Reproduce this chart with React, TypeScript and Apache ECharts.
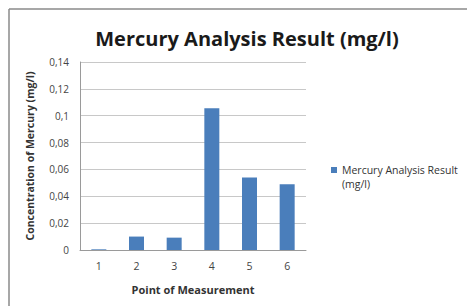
import React, { useEffect, useRef } from "react";
import * as echarts from "echarts";

const categories = ["1", "2", "3", "4", "5", "6"];
const values = [0.0005, 0.01, 0.0092, 0.1055, 0.054, 0.049];
const seriesName = "Mercury Analysis Result (mg/l)";
const titleText = "Mercury Analysis Result (mg/l)";
const yAxisName = "Concentration of Mercury (mg/l)";
const xAxisName = "Point of Measurement";

const FONT = "'Open Sans', 'Liberation Sans', sans-serif";

export default function App() {
  const ref = useRef<HTMLDivElement>(null);
  useEffect(() => {
    if (!ref.current) return;
    const chart = echarts.init(ref.current, null, { renderer: "svg" });
    chart.setOption({
      animation: false,
      backgroundColor: "#ffffff",
      title: {
        text: titleText,
        left: 242,
        top: 23,
        textAlign: "center",
        textStyle: { fontFamily: FONT, fontSize: 20, fontWeight: "bold", color: "#1a1a1a" },
      },
      graphic: [
        { type: "line", shape: { x1: 9, y1: 9, x2: 467, y2: 9 }, style: { stroke: "#8a8a8a", lineWidth: 1.5 } },
        { type: "line", shape: { x1: 9, y1: 9, x2: 9, y2: 306 }, style: { stroke: "#8a8a8a", lineWidth: 1.5 } },
      ],
      legend: {
        left: 326,
        top: 144,
        orient: "vertical",
        itemWidth: 6,
        itemHeight: 6,
        itemGap: 4,
        icon: "rect",
        formatter: () => " \nMercury Analysis Result\n(mg/l)",
        textStyle: { fontFamily: FONT, fontSize: 10.5, color: "#333", lineHeight: 14 },
        data: [seriesName],
      },
      grid: { left: 80, top: 62, width: 226, height: 188, containLabel: false },
      xAxis: {
        type: "category",
        data: categories,
        name: xAxisName,
        nameLocation: "middle",
        nameGap: 34,
        nameTextStyle: { fontFamily: FONT, fontSize: 11, fontWeight: "bold", color: "#333" },
        axisLine: { lineStyle: { color: "#9a9a9a" } },
        axisTick: { show: false },
        axisLabel: { fontFamily: FONT, fontSize: 10.5, color: "#444", margin: 10 },
      },
      yAxis: {
        type: "value",
        min: 0,
        max: 0.14,
        interval: 0.02,
        name: yAxisName,
        nameLocation: "middle",
        nameGap: 45,
        nameTextStyle: { fontFamily: FONT, fontSize: 10.5, fontWeight: "bold", color: "#333" },
        axisLine: { show: true, lineStyle: { color: "#9a9a9a" } },
        axisTick: { show: false },
        splitLine: { lineStyle: { color: "#c8c8c8" } },
        axisLabel: {
          fontFamily: FONT,
          fontSize: 10,
          color: "#444",
          margin: 11,
          formatter: (v: number) => (Math.round(v * 100) / 100).toString().replace(".", ","),
        },
      },
      series: [
        {
          name: seriesName,
          type: "bar",
          data: values,
          barWidth: 15,
          itemStyle: { color: "#4a7ebb" },
        },
      ],
    });
    return () => chart.dispose();
  }, []);
  return <div ref={ref} style={{ position: "fixed", left: 0, top: 0, width: 467, height: 306 }} />;
}
